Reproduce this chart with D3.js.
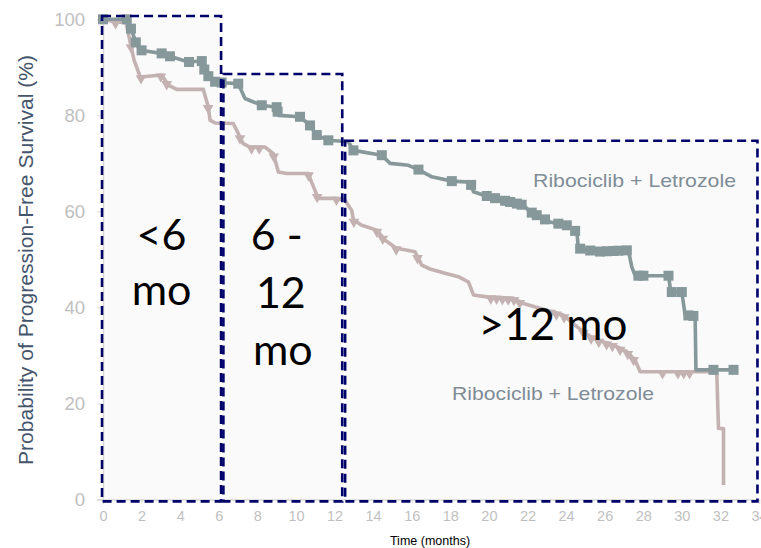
<!DOCTYPE html>
<html><head><meta charset="utf-8">
<script src="https://cdn.jsdelivr.net/npm/d3@7"></script>
<style>html,body{margin:0;padding:0;background:#fff;overflow:hidden}</style>
</head><body>
<svg id="c" width="761" height="548"></svg>
<script>
// ---- data ----
const xTicks = [0,2,4,6,8,10,12,14,16,18,20,22,24,26,28,30,32,34];
const yTicks = [0,20,40,60,80,100];
const seriesNames = ["Ribociclib + Letrozole", "Ribociclib + Letrozole"];
// Ribociclib curve (months, % PFS)
const ribT = [0,1.23,1.49,1.75,2.01,3.04,3.47,4.42,5.12,5.29,5.55,5.81,6.24,7.01,7.36,8.23,9.0,9.09,10.21,10.73,11.08,11.68,12.72,12.98,14.45,14.88,15.83,16.35,17.04,18.08,19.03,19.2,19.71,20.75,21.79,22.14,23.17,23.52,24.04,24.56,24.64,25.59,27.23,27.41,27.58,29.31,29.43,30.0,30.17,30.69,30.73,32.68];
const ribP = [100,100,97.7,94.6,93.5,92.9,92.3,91.1,91.3,89.0,87.7,87.0,86.8,86.6,83.5,82.1,81.7,80.0,79.7,77.9,75.9,74.8,74.5,72.7,71.7,70.0,69.6,68.7,67.2,66.3,66.1,64.1,63.4,62.3,61.3,59.9,57.8,57.5,57.1,55.7,52.3,51.6,51.9,48.4,46.6,46.6,43.2,43.2,38.4,38.2,27.0,27.0];
const ribCensor = [0,1.23,1.45,1.7,2.0,3.04,3.47,4.46,5.12,5.25,5.46,5.81,6.15,7.01,8.23,9.0,9.05,10.21,10.73,11.08,11.68,12.98,14.45,16.35,18.08,19.08,19.89,20.32,20.84,21.1,21.45,21.7,22.22,22.48,22.91,23.6,24.04,24.47,24.73,25.25,25.76,26.11,26.45,26.71,27.15,27.75,28.01,29.31,29.48,30.0,30.34,30.6,31.64,32.68];
// Comparator curve (months, % PFS)
const cmpT = [0,0.6,1.2,1.39,1.61,1.93,3.04,3.38,3.82,5.2,5.46,5.55,5.81,6.75,6.93,7.27,7.62,8.4,8.83,9.09,9.52,10.64,10.81,11.16,12.11,12.54,12.89,12.98,13.41,14.19,14.62,15.23,16.17,16.52,16.95,17.73,18.42,18.94,19.2,19.89,21.27,21.79,23.0,23.86,24.56,25.42,26.45,27.15,27.58,27.84,31.81,31.9,32.16,32.16];
const cmpP = [100,99.5,99.3,95.6,91.5,88.0,88.4,86.3,85.4,85.4,81.7,79.0,78.4,78.3,76.9,74.1,73.4,73.4,72.0,68.2,67.9,67.9,66.1,62.7,62.7,62.3,60.2,58.2,57.1,56.1,54.0,52.3,51.6,48.8,48.0,47.1,46.4,45.3,42.6,42.2,41.9,40.8,39.4,38.4,36.0,33.5,32.2,30.8,29.0,26.6,26.6,14.8,14.8,3.0];
const cmpCensor = [0.65,1.45,1.97,3.0,3.3,5.45,7.1,7.7,8.1,8.85,10.65,11.1,12.1,13.0,14.2,14.5,15.2,16.3,20.1,20.4,20.7,21.0,21.3,21.6,23.2,23.5,23.9,24.9,25.3,25.7,26.1,26.4,26.8,27.2,27.5,29.0,29.8,30.1,30.4];
// time-window annotation boxes: [start month, end month, top %]
const boxStart = [-0.05, 6.24, 12.55];
const boxEnd = [6.12, 12.4, 33.92];
const boxTop = [100.7, 88.6, 74.7];
const boxLabels = [["<6","mo"],["6 -","12","mo"],[">12 mo"]];

// ---- chart ----
const svg = d3.select("#c");
const x = d3.scaleLinear().domain([0,34]).range([103,759]);
const y = d3.scaleLinear().domain([0,100]).range([499.5,19.3]);
const tealC = "#86989a", pinkC = "#c4b2b2";
const sf = "Liberation Sans, Arial, sans-serif";

// box fills
const boxes = boxStart.map((s,i)=>({s, e:boxEnd[i], t:boxTop[i]}));
svg.selectAll("rect.bf").data(boxes).enter().append("rect")
  .attr("x", d=>x(d.s)).attr("y", d=>y(d.t))
  .attr("width", d=>x(d.e)-x(d.s)).attr("height", d=>y(-0.4)-y(d.t))
  .attr("fill", "#fafafa");

// axes
const gx = svg.append("g").attr("transform",`translate(0,${y(0)})`)
  .call(d3.axisBottom(x).tickValues(xTicks).tickSize(4).tickPadding(7));
gx.select(".domain").attr("stroke","#d9d9d9").attr("stroke-width",1.5);
gx.selectAll(".tick line").attr("stroke","#d9d9d9");
gx.selectAll(".tick text").attr("fill","#bfbfbf").style("font-family",sf).style("font-size","14.5px");

const gy = svg.append("g").attr("transform",`translate(${x(0)},0)`)
  .call(d3.axisLeft(y).tickValues(yTicks).tickSize(6).tickPadding(12));
gy.select(".domain").attr("stroke","#d9d9d9").attr("stroke-width",1.5);
gy.selectAll(".tick line").attr("stroke","#d9d9d9");
gy.selectAll(".tick text").attr("fill","#bfbfbf").style("font-family",sf).style("font-size","18.5px");

// curves
const line = d3.line().x(d=>x(d[0])).y(d=>y(d[1]));
const ribData = ribT.map((t,i)=>[t, ribP[i]]);
const cmpData = cmpT.map((t,i)=>[t, cmpP[i]]);
function along(data, t){
  for(let i=1;i<data.length;i++){
    if(t<=data[i][0]){
      const a=data[i-1], b=data[i];
      const f = b[0]===a[0]?0:(t-a[0])/(b[0]-a[0]);
      return a[1]+f*(b[1]-a[1]);
    }
  }
  return data[data.length-1][1];
}
svg.append("path").datum(cmpData).attr("d", line).attr("fill","none")
  .attr("stroke", pinkC).attr("stroke-width",3.6).attr("stroke-linejoin","round");
svg.selectAll("path.tri").data(cmpCensor).enter().append("path")
  .attr("d", d3.symbol().type(d3.symbolTriangle).size(50))
  .attr("transform", t=>`translate(${x(t)},${y(along(cmpData,t))+1.5}) rotate(180)`)
  .attr("fill", pinkC);
svg.append("path").datum(ribData).attr("d", line).attr("fill","none")
  .attr("stroke", tealC).attr("stroke-width",3.6).attr("stroke-linejoin","round");
svg.selectAll("rect.sq").data(ribCensor).enter().append("rect")
  .attr("x", t=>x(t)-5).attr("y", t=>y(along(ribData,t))-5)
  .attr("width",10).attr("height",10).attr("fill", tealC);

// box dashed outlines
svg.selectAll("rect.bo").data(boxes).enter().append("rect")
  .attr("x", d=>x(d.s)).attr("y", d=>y(d.t))
  .attr("width", d=>x(d.e)-x(d.s)).attr("height", d=>y(-0.4)-y(d.t))
  .attr("fill","none").attr("stroke","#00006b").attr("stroke-width",2.6)
  .attr("stroke-dasharray","9,5");

// box labels
const lf = "Lato, Carlito, 'Noto Sans', sans-serif";
const c1 = (x(boxStart[0])+x(boxEnd[0]))/2;
const lab1 = svg.append("text").attr("font-family",lf).attr("font-size",43).attr("fill","#000").attr("text-anchor","middle");
lab1.append("tspan").attr("x",c1).attr("y",250).text(boxLabels[0][0]);
lab1.append("tspan").attr("x",c1).attr("y",305).text(boxLabels[0][1]);
const lab2 = svg.append("text").attr("font-family",lf).attr("font-size",43).attr("fill","#000").attr("text-anchor","middle");
const c2 = (x(boxStart[1])+x(boxEnd[1]))/2;
lab2.append("tspan").attr("x",c2-6).attr("y",250).text(boxLabels[1][0]);
lab2.append("tspan").attr("x",c2-2).attr("y",308).text(boxLabels[1][1]);
lab2.append("tspan").attr("x",c2).attr("y",365).text(boxLabels[1][2]);
svg.append("text").attr("font-family",lf).attr("font-size",44).attr("fill","#000")
  .attr("text-anchor","middle").attr("x",553).attr("y",340).text(boxLabels[2][0]);

// series labels
svg.append("text").attr("font-family",sf).attr("font-size",19).attr("fill","#7f8c96")
  .attr("x",533).attr("y",187).attr("textLength",203).attr("lengthAdjust","spacingAndGlyphs").text(seriesNames[0]);
svg.append("text").attr("font-family",sf).attr("font-size",19).attr("fill","#7f8c96")
  .attr("x",452).attr("y",400).attr("textLength",202).attr("lengthAdjust","spacingAndGlyphs").text(seriesNames[1]);

// axis titles
svg.append("text").attr("font-family",sf).attr("font-size",19.5).attr("fill","#44546a")
  .attr("text-anchor","middle").attr("transform",`translate(33,260) rotate(-90)`)
  .attr("textLength",410).attr("lengthAdjust","spacingAndGlyphs")
  .text("Probability of Progression-Free Survival (%)");
svg.append("text").attr("font-family",sf).attr("font-size",12.5).attr("fill","#000")
  .attr("text-anchor","middle").attr("x",430).attr("y",545).text("Time (months)");
</script>
</body></html>
